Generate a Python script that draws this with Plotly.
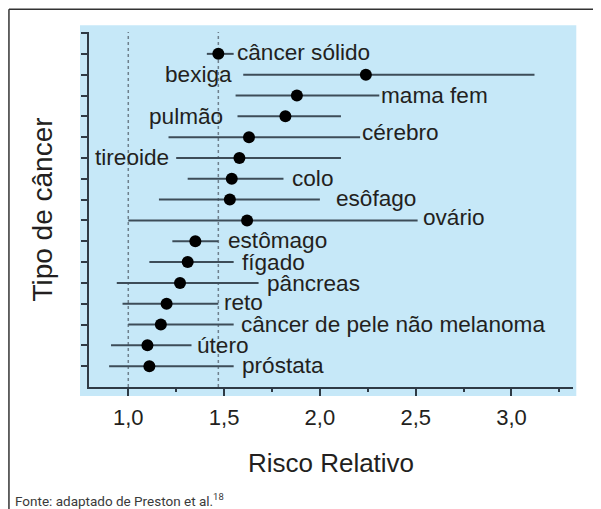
import plotly.graph_objects as go

# ---------------- data ----------------
categories = ["câncer sólido", "bexiga", "mama fem", "pulmão", "cérebro", "tireoide",
              "colo", "esôfago", "ovário", "estômago", "fígado", "pâncreas", "reto",
              "câncer de pele não melanoma", "útero", "próstata"]
rr = [1.47, 2.24, 1.88, 1.82, 1.63, 1.58, 1.54, 1.53, 1.62, 1.35, 1.31, 1.27, 1.20, 1.17, 1.10, 1.11]
ci_low = [1.41, 1.60, 1.56, 1.57, 1.21, 1.25, 1.31, 1.16, 1.00, 1.23, 1.11, 0.94, 0.97, 1.00, 0.91, 0.90]
ci_high = [1.55, 3.12, 2.31, 2.11, 2.21, 2.11, 1.81, 2.00, 2.51, 1.47, 1.55, 1.68, 1.47, 1.55, 1.33, 1.55]
x_tickvals = [1.0, 1.5, 2.0, 2.5, 3.0]
x_ticktext = ["1,0", "1,5", "2,0", "2,5", "3,0"]
reference_rr = 1.0

# ---------------- style / layout ----------------
FONT = "Liberation Sans, Arial, Helvetica, sans-serif"
TXT = "#231f20"
BLUE = "#c6e8f8"
AXIS = "#2e3a45"
BAR = "#3d4c58"
DOT = "#6f808d"
LABEL_SIZE = 22.6

# label placement: (side, gap px, vertical shift px)
label_place = {
    "câncer sólido": ("right", 1, 1),
    "bexiga": ("left", 9, 0),
    "mama fem": ("right", 0, 0),
    "pulmão": ("left", 13, 0),
    "cérebro": ("right", 0, 5),
    "tireoide": ("left", 5, 0),
    "colo": ("right", 7, 0),
    "esôfago": ("right", 14, 1),
    "ovário": ("right", 3, 3),
    "estômago": ("right", 8, 1),
    "fígado": ("right", 6, 0),
    "pâncreas": ("right", 6, -1),
    "reto": ("right", 4, 1),
    "câncer de pele não melanoma": ("right", 5, 0),
    "útero": ("right", 3, 0),
    "próstata": ("right", 6, 1),
}

n = len(categories)
ys = list(range(n, 0, -1))

fig = go.Figure()
fig.add_trace(go.Scatter(
    x=rr, y=ys, mode="markers",
    marker=dict(color="black", size=12, line=dict(width=0)),
    error_x=dict(type="data", symmetric=False,
                 array=[h - r for h, r in zip(ci_high, rr)],
                 arrayminus=[r - l for r, l in zip(rr, ci_low)],
                 color=BAR, thickness=2, width=0),
    showlegend=False, hoverinfo="skip",
))

annotations = []
for cat, y, lo, hi in zip(categories, ys, ci_low, ci_high):
    side, gap, dy = label_place[cat]
    if side == "right":
        annotations.append(dict(x=hi, y=y, xref="x", yref="y", text=cat, showarrow=False,
                                xanchor="left", yanchor="middle", xshift=gap, yshift=dy,
                                font=dict(size=LABEL_SIZE, color=TXT, family=FONT)))
    else:
        annotations.append(dict(x=lo, y=y, xref="x", yref="y", text=cat, showarrow=False,
                                xanchor="right", yanchor="middle", xshift=-gap, yshift=dy,
                                font=dict(size=LABEL_SIZE, color=TXT, family=FONT)))

annotations.append(dict(x=-0.157, y=-0.319, xref="paper", yref="paper",
                        text="Fonte: adaptado de Preston et al.<sup>18</sup>", showarrow=False,
                        xanchor="left", yanchor="middle",
                        font=dict(size=13.5, color="#3a3a3a", family="Roboto, Liberation Sans, sans-serif")))

shapes = [
    # light blue panel
    dict(type="rect", xref="paper", yref="paper", x0=-0.0186, x1=1.0068, y0=-0.0254, y1=1.0189,
         fillcolor=BLUE, line=dict(width=0), layer="below"),
    # reference lines
    dict(type="line", xref="x", yref="paper", x0=reference_rr, x1=reference_rr, y0=0, y1=1,
         line=dict(color=DOT, width=1.5, dash="dot"), layer="below"),
    dict(type="line", xref="x", yref="paper", x0=rr[0], x1=rr[0], y0=0, y1=1,
         line=dict(color=DOT, width=1.5, dash="dot"), layer="below"),
    # outer frame (left + top)
    dict(type="line", xref="paper", yref="paper", x0=-0.1654, x1=-0.1654, y0=1.0639, y1=-0.40,
         line=dict(color="#333333", width=1.5)),
    dict(type="line", xref="paper", yref="paper", x0=-0.1654, x1=1.10, y0=1.0639, y1=1.0639,
         line=dict(color="#333333", width=1.5)),
]

# the page body has an 8px margin, so the figure is 8px smaller than the window
fig.update_layout(
    width=593, height=501,
    margin=dict(l=81, r=28.3, t=23.7, b=122.3),
    paper_bgcolor="white", plot_bgcolor=BLUE,
    font=dict(family=FONT, color=TXT),
    shapes=shapes, annotations=annotations,
    xaxis=dict(range=[0.795, 3.321], tickvals=x_tickvals, ticktext=x_ticktext,
               showgrid=False, zeroline=False, showline=True, linecolor=AXIS, linewidth=2,
               ticks="outside", ticklen=7, tickwidth=2, tickcolor=AXIS, ticklabelstandoff=3,
               tickfont=dict(size=22, color=TXT, family=FONT),
               minor=dict(dtick=0.25, tick0=0, ticks="outside", ticklen=3, tickwidth=2, tickcolor=AXIS),
               title=dict(text="Risco Relativo", font=dict(size=26, color=TXT, family=FONT), standoff=24),
               fixedrange=True),
    yaxis=dict(range=[0, 17.05], tickvals=list(range(1, n + 2)), showticklabels=False,
               showgrid=False, zeroline=False, showline=True, linecolor=AXIS, linewidth=2,
               ticks="outside", ticklen=6, tickwidth=2, tickcolor=AXIS,
               title=dict(text="Tipo de câncer", font=dict(size=28, color=TXT, family=FONT), standoff=20),
               fixedrange=True),
)

fig.write_html("out.html")
